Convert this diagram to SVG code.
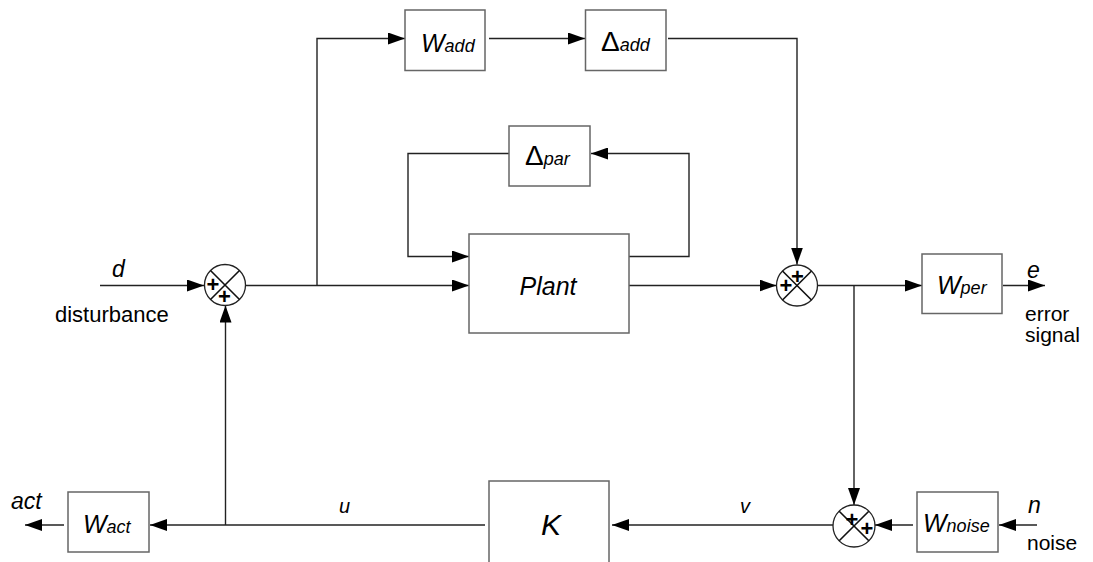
<svg xmlns="http://www.w3.org/2000/svg" width="1093" height="562" viewBox="0 0 1093 562">
<style>
.box{fill:#fff;stroke:#666;stroke-width:1.5}
.ln{fill:none;stroke:#222;stroke-width:1.4}
.sum{fill:#fff;stroke:#222;stroke-width:1.3}
.x{stroke:#111;stroke-width:1.6}
text{font-family:"Liberation Sans",Arial,sans-serif;fill:#000}
.lbl{font-style:italic;font-size:23px}
.desc{font-size:21px}
.W{font-style:italic;font-size:25px}
.sub{font-style:italic;font-size:18px}
.D{font-size:28px}
.pl{font-size:22px;font-weight:bold;text-anchor:middle}
</style>
<defs>
<marker id="ar" markerUnits="userSpaceOnUse" markerWidth="18" markerHeight="12" refX="17" refY="6" orient="auto">
<path d="M0,0 L17,6 L0,12 z" fill="#000"/>
</marker>
</defs>
<g id="connectors">
<path class="ln" d="M100,285.5 H204" marker-end="url(#ar)"/>
<path class="ln" d="M246,285.5 H469" marker-end="url(#ar)"/>
<path class="ln" d="M317,285.5 V38.5 H405" marker-end="url(#ar)"/>
<path class="ln" d="M489,38.5 H585" marker-end="url(#ar)"/>
<path class="ln" d="M668,38.5 H797 V264.5" marker-end="url(#ar)"/>
<path class="ln" d="M629,285.5 H776.5" marker-end="url(#ar)"/>
<path class="ln" d="M629,256.5 H689 V153.5 H591" marker-end="url(#ar)"/>
<path class="ln" d="M509,153.5 H408 V256.5 H469" marker-end="url(#ar)"/>
<path class="ln" d="M817.5,285.5 H922" marker-end="url(#ar)"/>
<path class="ln" d="M1003,285.5 H1045" marker-end="url(#ar)"/>
<path class="ln" d="M854,285.5 V505" marker-end="url(#ar)"/>
<path class="ln" d="M1037,525 H999" marker-end="url(#ar)"/>
<path class="ln" d="M913,525 H875" marker-end="url(#ar)"/>
<path class="ln" d="M833,525 H612" marker-end="url(#ar)"/>
<path class="ln" d="M485,525 H150" marker-end="url(#ar)"/>
<path class="ln" d="M225.5,525 V305.5" marker-end="url(#ar)"/>
<path class="ln" d="M64,525 H25" marker-end="url(#ar)"/>
</g>
<g id="sum1">
<circle class="sum" cx="225" cy="285" r="20.5"/>
<path class="x" d="M210.5,270.5 L239.5,299.5 M239.5,270.5 L210.5,299.5"/>
<text class="pl" x="213" y="292">+</text>
<text class="pl" x="224.5" y="304">+</text>
</g>
<g id="sum2">
<circle class="sum" cx="797" cy="285.5" r="20.5"/>
<path class="x" d="M782.5,271 L811.5,300 M811.5,271 L782.5,300"/>
<text class="pl" x="786" y="293">+</text>
<text class="pl" x="797.5" y="283.5">+</text>
</g>
<g id="sum3">
<circle class="sum" cx="854" cy="526" r="21"/>
<path class="x" d="M839.2,511.2 L868.8,540.8 M868.8,511.2 L839.2,540.8"/>
<text class="pl" x="852" y="526.5">+</text>
<text class="pl" x="867" y="536">+</text>
</g>
<g id="Wadd">
<rect class="box" x="405" y="10" width="80" height="60.5"/>
<text x="421" y="52"><tspan class="W">W</tspan><tspan class="sub">add</tspan></text>
</g>
<g id="Dadd">
<rect class="box" x="585.5" y="10" width="80.5" height="60.5"/>
<text x="601" y="51"><tspan class="D">Δ</tspan><tspan class="sub">add</tspan></text>
</g>
<g id="Dpar">
<rect class="box" x="509" y="126" width="81" height="60"/>
<text x="525" y="165"><tspan class="D">Δ</tspan><tspan class="sub">par</tspan></text>
</g>
<g id="Plant">
<rect class="box" x="469" y="234" width="160" height="99"/>
<text x="548" y="295" style="font-style:italic;font-size:25px;text-anchor:middle">Plant</text>
</g>
<g id="Wper">
<rect class="box" x="922" y="254" width="80" height="59.5"/>
<text x="937" y="294"><tspan class="W">W</tspan><tspan class="sub">per</tspan></text>
</g>
<g id="Wnoise">
<rect class="box" x="917" y="492" width="81" height="60"/>
<text x="923" y="532"><tspan class="W">W</tspan><tspan class="sub">noise</tspan></text>
</g>
<g id="K">
<rect class="box" x="489" y="481" width="120" height="95"/>
<text x="551" y="535" style="font-style:italic;font-size:30px;text-anchor:middle">K</text>
</g>
<g id="Wact">
<rect class="box" x="68" y="492" width="81" height="60"/>
<text x="83" y="533"><tspan class="W">W</tspan><tspan class="sub">act</tspan></text>
</g>
<g id="labels">
<text class="lbl" x="112" y="277">d</text>
<text class="desc" x="55" y="322" style="font-size:22px">disturbance</text>
<text class="lbl" x="1027" y="278">e</text>
<text class="desc" x="1025" y="321">error</text>
<text class="desc" x="1025" y="342">signal</text>
<text class="lbl" x="1028" y="513">n</text>
<text class="desc" x="1027" y="550">noise</text>
<text class="lbl" x="11" y="509">act</text>
<text class="lbl" x="339" y="513" style="font-size:20px">u</text>
<text class="lbl" x="740" y="513" style="font-size:20px">v</text>
</g>
</svg>
